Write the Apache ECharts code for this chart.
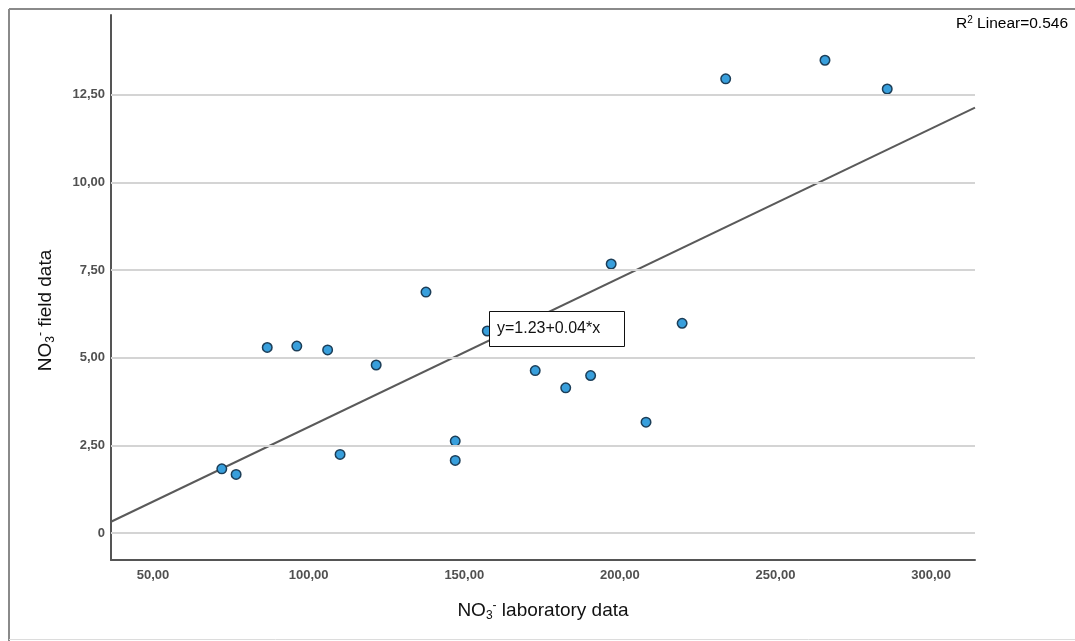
<!DOCTYPE html>
<html>
<head>
<meta charset="utf-8">
<script src="https://cdn.jsdelivr.net/npm/echarts@6/dist/echarts.min.js"></script>
<style>
html,body{margin:0;padding:0;background:#fff;}
#c{width:1075px;height:641px;}
</style>
</head>
<body>
<div id="c"></div>
<script>
// NO3- laboratory data (x) and NO3- field data (y)
var labData = [72.1, 76.7, 86.7, 96.2, 106.1, 110.1, 121.7, 137.7, 147.1, 147.1, 157.4, 172.8, 182.6, 190.6, 197.2, 208.4, 220.0, 234.0, 265.9, 285.9];
var fieldData = [1.83, 1.67, 5.29, 5.33, 5.22, 2.24, 4.79, 6.87, 2.62, 2.07, 5.76, 4.63, 4.14, 4.49, 7.67, 3.16, 5.98, 12.95, 13.48, 12.66];
// fitted line end points (x, y)
var fitX = [36.5, 314.1];
var fitY = [0.32, 12.13];
var xTicks = [50, 100, 150, 200, 250, 300];
var yTicks = [0, 2.5, 5, 7.5, 10, 12.5];
var xRange = [36.5, 314.1];
var yRange = [-0.77, 14.77];
var eqText = 'y=1.23+0.04*x';
var r2Text = 'Linear=0.546';

var points = labData.map(function (x, i) { return [x, fieldData[i]]; });
var fitLine = fitX.map(function (x, i) { return [x, fitY[i]]; });

function fmt(v) { return v === 0 ? '0' : v.toFixed(2).replace('.', ','); }

var chart = echarts.init(document.getElementById('c'), null, {renderer: 'canvas'});
var font = 'Liberation Sans, Arial, sans-serif';
var nameRich = {
  a: {fontSize: 19, fontFamily: font, color: '#111'},
  sub: {fontSize: 12, fontFamily: font, color: '#111', padding: [10, 0, 0, 0]},
  sup: {fontSize: 12, fontFamily: font, color: '#111', padding: [0, 0, 10, 0]}
};
chart.setOption({
  animation: false,
  backgroundColor: '#fff',
  grid: {left: 111, right: 100, top: 15, bottom: 81, containLabel: false},
  xAxis: {
    type: 'value', min: xRange[0], max: xRange[1],
    name: '{a|NO}{sub|3}{sup|-}{a| laboratory data}',
    nameLocation: 'middle', nameGap: 40,
    nameTextStyle: {rich: nameRich},
    axisLine: {show: true, onZero: false, lineStyle: {color: '#555', width: 2}},
    axisTick: {show: false},
    splitLine: {show: false},
    axisLabel: {customValues: xTicks, formatter: fmt, margin: 9, color: '#505050', fontSize: 13, fontWeight: 'bold', fontFamily: font}
  },
  yAxis: {
    type: 'value', min: yRange[0], max: yRange[1],
    name: '{a|NO}{sub|3}{sup|-}{a| field data}',
    nameLocation: 'middle', nameGap: 54, nameRotate: 90,
    nameTextStyle: {rich: nameRich, padding: [0, 46, 0, 0]},
    axisLine: {show: true, onZero: false, lineStyle: {color: '#555', width: 2}},
    axisTick: {show: false},
    splitLine: {show: false},
    axisLabel: {customValues: yTicks, formatter: fmt, margin: 6, color: '#505050', fontSize: 13, fontWeight: 'bold', fontFamily: font}
  },
  series: [
    {
      type: 'line', data: [], silent: true,
      markLine: {
        silent: true, symbol: 'none', label: {show: false},
        lineStyle: {color: '#d4d4d4', width: 2, type: 'solid'},
        data: yTicks.map(function (v) { return {yAxis: v}; })
      }
    },
    {
      type: 'line', data: fitLine, showSymbol: false, symbol: 'none', silent: true,
      lineStyle: {color: '#5a5a5a', width: 2}, z: 3
    },
    {
      type: 'scatter', data: points, symbol: 'circle', symbolSize: 9.5, z: 4,
      itemStyle: {color: '#389fdc', borderColor: '#1c3e58', borderWidth: 1.5, opacity: 1}
    }
  ],
  graphic: [
    {type: 'line', shape: {x1: 9, y1: 9, x2: 1075, y2: 9}, style: {stroke: '#8a8a8a', lineWidth: 2}, z: 10},
    {type: 'line', shape: {x1: 9, y1: 9, x2: 9, y2: 641}, style: {stroke: '#8a8a8a', lineWidth: 2}, z: 10},
    {type: 'line', shape: {x1: 9, y1: 639.5, x2: 1075, y2: 639.5}, style: {stroke: '#dcdcdc', lineWidth: 1}, z: 10},
    {type: 'rect', left: 489, top: 311, z: 50, shape: {x: 0, y: 0, width: 135, height: 35}, style: {fill: '#fff', stroke: '#111', lineWidth: 1}},
    {type: 'text', left: 497, top: 321, z: 51, style: {text: eqText, font: '16px Liberation Sans, Arial, sans-serif', fill: '#111'}},
    {
      type: 'text', right: 7, top: 15, z: 20,
      style: {
        text: '{r|R}{s|2}{r| ' + r2Text + '}',
        rich: {
          r: {fontSize: 15.5, fontFamily: font, color: '#111'},
          s: {fontSize: 10, fontFamily: font, color: '#111', padding: [0, 0, 8, 0]}
        }
      }
    }
  ]
});
</script>
</body>
</html>
